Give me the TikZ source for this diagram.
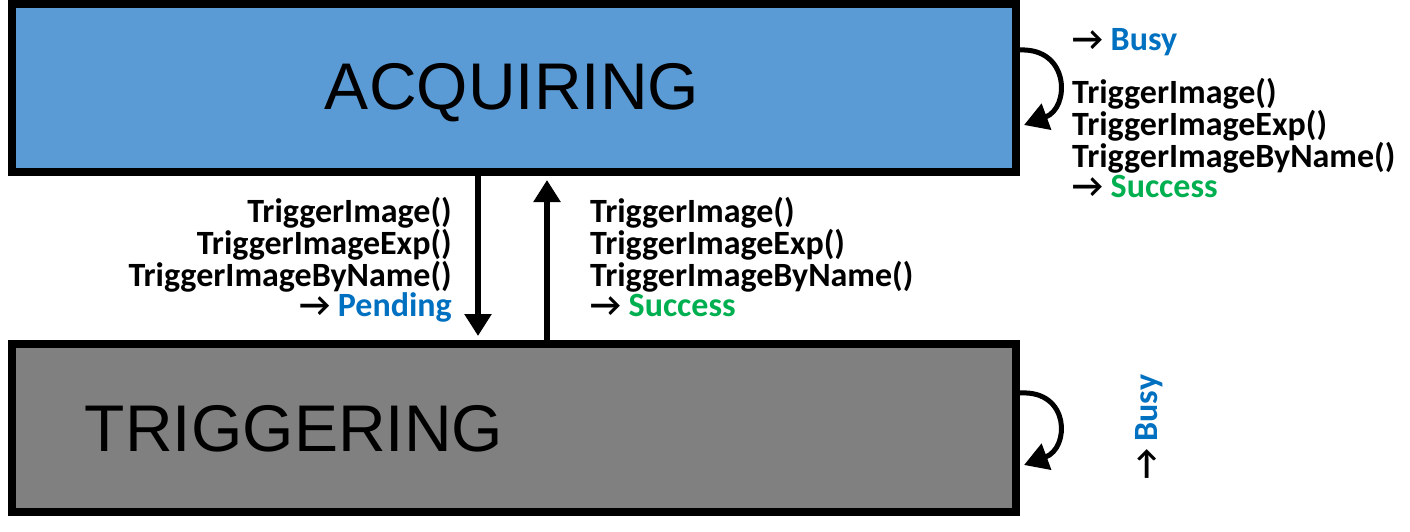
\documentclass[tikz,border=0pt]{standalone}
\usepackage{fontspec}
\setmainfont{Liberation Sans}
\newfontfamily\lblfont{Carlito}
\usetikzlibrary{arrows.meta}
\definecolor{acqblue}{HTML}{5B9BD5}
\definecolor{triggray}{HTML}{808080}
\definecolor{busyblue}{HTML}{0070C0}
\definecolor{okgreen}{HTML}{00B050}
\begin{document}
\begin{tikzpicture}[x=1pt,y=-1pt,
  statebox/.style={draw=black, line width=8pt, rectangle, inner sep=0pt,
    minimum width=1004pt, minimum height=168pt},
  statetext/.style={font=\fontsize{66}{70}\selectfont, inner sep=0pt},
  lbl/.style={font=\lblfont\bfseries\fontsize{34}{29.7}\selectfont, inner sep=0pt},
  transarrow/.style={line width=5.5pt, -{Triangle[length=22pt,width=26pt]}},
  selfloop/.style={line width=5pt, -{Triangle[length=24pt,width=27pt]}}
]
\useasboundingbox[fill=white] (0,0) rectangle (1410,532);
% states
\node[statebox, fill=acqblue] (acq) at (514,88) {};
\node[statetext, anchor=base] (acqtext) at (512,110) {ACQUIRING};
\node[statebox, fill=triggray] (trig) at (514,428) {};
\node[statetext, anchor=base] (trigtext) at (294,451) {TRIGGERING};
% transitions between states
\draw[transarrow, shorten >=4pt] ([xshift=-36pt]acq.south) -- ([xshift=-36pt]trig.north);
\draw[transarrow, shorten >=4pt] ([xshift=33pt]trig.north) -- ([xshift=33pt]acq.south);
% self loops
\draw[selfloop] ([yshift=38pt]acq.east) .. controls +(50,-2) and +(46,-17) .. ([yshift=-37pt,xshift=4pt]acq.east);
\draw[selfloop] ([yshift=35pt]trig.east) .. controls +(50,-3) and +(46,-17) .. ([yshift=-37pt,xshift=4pt]trig.east);
% labels
\node[lbl, anchor=base west] (busytop) at (1072,51) {→ \textcolor{busyblue}{Busy}};
\node[lbl, align=left, anchor=base west] (selfacq) at (1072,197)
  {TriggerImage()\\TriggerImageExp()\\TriggerImageByName()\\→ \textcolor{okgreen}{Success}};
\node[lbl, align=right, anchor=base east] (downlbl) at (452,316)
  {TriggerImage()\\TriggerImageExp()\\TriggerImageByName()\\→ \textcolor{busyblue}{Pending}};
\node[lbl, align=left, anchor=base west] (uplbl) at (590,316)
  {TriggerImage()\\TriggerImageExp()\\TriggerImageByName()\\→ \textcolor{okgreen}{Success}};
\node[lbl, rotate=90, anchor=base west] (busybot) at (1157,480) {→ \textcolor{busyblue}{Busy}};
\end{tikzpicture}
\end{document}
